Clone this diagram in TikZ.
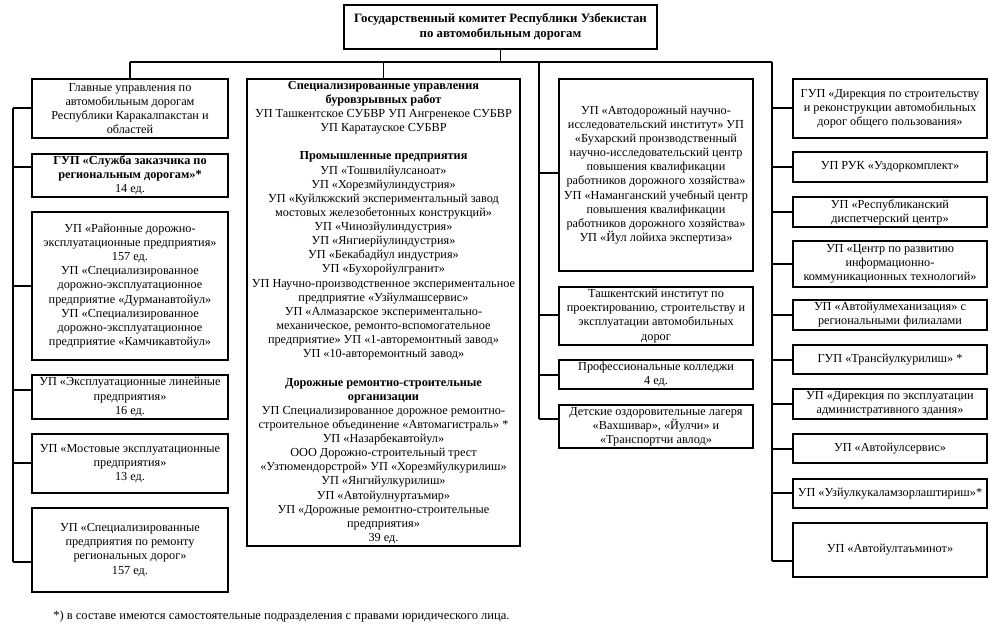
\documentclass[tikz,border=0pt]{standalone}
\usepackage{fontspec}
\setmainfont{Liberation Serif}
\newcommand\mkbox[6]{\node[bx, minimum width={(#4-#2)*0.75pt}, minimum height={(#5-#3)*0.75pt}] (#1) at ({(#2+#4)/2},{(#3+#5)/2}) {#6};}
\begin{document}
\begin{tikzpicture}[x=0.75pt,y=-0.75pt,
  bx/.style={draw, line width=0.9pt, inner sep=0pt, align=center, font=\fontsize{9.2}{10.6}\selectfont},
  ln/.style={line width=0.8pt}]
\useasboundingbox (0,0) rectangle (995,641);

% top
\node[bx, minimum width={313*0.75pt}, minimum height={44*0.75pt}, font=\bfseries\fontsize{9.6}{11.3}\selectfont] (top) at (500.5,27)
  {Государственный комитет Республики Узбекистан\\по автомобильным дорогам};

% left column
\mkbox{lb1}{32}{79}{228}{138}{Главные управления по\\автомобильным дорогам\\Республики Каракалпакстан и\\областей}
\mkbox{lb2}{32}{154}{228}{197}{\textbf{ГУП «Служба заказчика по}\\\textbf{региональным дорогам»*}\\14 ед.}
\mkbox{lb3}{32}{212}{228}{360}{УП «Районные дорожно-\\эксплуатационные предприятия»\\157 ед.\\УП «Специализированное\\дорожно-эксплуатационное\\предприятие «Дурманавтойул»\\УП «Специализированное\\дорожно-эксплуатационное\\предприятие «Камчикавтойул»}
\mkbox{lb4}{32}{375}{228}{419}{УП «Эксплуатационные линейные\\предприятия»\\16 ед.}
\mkbox{lb5}{32}{434}{228}{493}{УП «Мостовые эксплуатационные\\предприятия»\\13 ед.}
\mkbox{lb6}{32}{508}{228}{592}{УП «Специализированные\\предприятия по ремонту\\региональных дорог»\\157 ед.}

% middle column
\mkbox{mid}{247}{79}{520}{546}{\textbf{Специализированные управления}\\\textbf{буровзрывных работ}\\УП Ташкентское СУБВР УП Ангренекое СУБВР\\УП Каратауское СУБВР\\[10.6pt]\textbf{Промышленные предприятия}\\УП «Тошвилйулсаноат»\\УП «Хорезмйулиндустрия»\\УП «Куйлкжский экспериментальный завод\\мостовых железобетонных конструкций»\\УП «Чинозйулиндустрия»\\УП «Янгиерйулиндустрия»\\УП «Бекабадйул индустрия»\\УП «Бухоройулгранит»\\УП Научно-производственное экспериментальное\\предприятие «Узйулмашсервис»\\УП «Алмазарское экспериментально-\\механическое, ремонто-вспомогательное\\предприятие» УП «1-авторемонтный завод»\\УП «10-авторемонтный завод»\\[10.6pt]\textbf{Дорожные ремонтно-строительные}\\\textbf{организации}\\УП Специализированное дорожное ремонтно-\\строительное объединение «Автомагистраль» *\\УП «Назарбекавтойул»\\ООО Дорожно-строительный трест\\«Узтюмендорстрой» УП «Хорезмйулкурилиш»\\УП «Янгийулкурилиш»\\УП «Автойулнуртаъмир»\\УП «Дорожные ремонтно-строительные\\предприятия»\\39 ед.}

% third column
\mkbox{ta}{559}{79}{753}{271}{УП «Автодорожный научно-\\исследовательский институт» УП\\«Бухарский производственный\\научно-исследовательский центр\\повышения квалификации\\работников дорожного хозяйства»\\УП «Наманганский учебный центр\\повышения квалификации\\работников дорожного хозяйства»\\УП «Йул лойиха экспертиза»}
\mkbox{tb}{559}{287}{753}{345}{Ташкентский институт по\\проектированию, строительству и\\эксплуатации автомобильных\\дорог}
\mkbox{tc}{559}{360}{753}{389}{Профессиональные колледжи\\4 ед.}
\mkbox{td}{559}{405}{753}{448}{Детские оздоровительные лагеря\\«Вахшивар», «Йулчи» и\\«Транспортчи авлод»}

% right column
\mkbox{r1}{793}{79}{987}{138}{ГУП «Дирекция по строительству\\и реконструкции автомобильных\\дорог общего пользования»}
\mkbox{r2}{793}{152}{987}{182}{УП РУК «Уздоркомплект»}
\mkbox{r3}{793}{197}{987}{227}{УП «Республиканский\\диспетчерский центр»}
\mkbox{r4}{793}{241}{987}{287}{УП «Центр по развитию\\информационно-\\коммуникационных технологий»}
\mkbox{r5}{793}{300}{987}{330}{УП «Автойулмеханизация» с\\региональными филиалами}
\mkbox{r6}{793}{345}{987}{374}{ГУП «Трансйулкурилиш» *}
\mkbox{r7}{793}{389}{987}{419}{УП «Дирекция по эксплуатации\\административного здания»}
\mkbox{r8}{793}{434}{987}{463}{УП «Автойулсервис»}
\mkbox{r9}{793}{479}{987}{508}{УП «Узйулкукаламзорлаштириш»*}
\mkbox{r10}{793}{523}{987}{577}{УП «Автойултаъминот»}

% footnote
\node[anchor=west, inner sep=0pt, font=\fontsize{9.4}{10.8}\selectfont] (fn) at (53,616)
  {*) в составе имеются самостоятельные подразделения с правами юридического лица.};

% bus coordinates
\coordinate (busC) at (500.5,62);
\coordinate (busL) at (130,62);
\coordinate (busM) at (383.5,62);
\coordinate (busT) at (539,62);
\coordinate (busR) at (772,62);

\draw[ln] (busC |- top.south) -- (busC);
\draw[ln] (busL) -- (busR);
\draw[ln] (busL) -- (lb1.north);
\draw[ln] (busM) -- (mid.north);

% left spine
\coordinate (ls1) at (13,108);
\coordinate (ls2) at (13,167);
\coordinate (ls3) at (13,286);
\coordinate (ls4) at (13,390);
\coordinate (ls5) at (13,463);
\coordinate (ls6) at (13,562);
\draw[ln] (ls1) -- (ls6);
\draw[ln] (ls1) -- (ls1 -| lb1.west);
\draw[ln] (ls2) -- (ls2 -| lb2.west);
\draw[ln] (ls3) -- (ls3 -| lb3.west);
\draw[ln] (ls4) -- (ls4 -| lb4.west);
\draw[ln] (ls5) -- (ls5 -| lb5.west);
\draw[ln] (ls6) -- (ls6 -| lb6.west);

% third spine
\coordinate (ts1) at (539,173);
\coordinate (ts2) at (539,315);
\coordinate (ts3) at (539,375);
\coordinate (ts4) at (539,419);
\draw[ln] (busT) -- (ts4);
\draw[ln] (ts1) -- (ts1 -| ta.west);
\draw[ln] (ts2) -- (ts2 -| tb.west);
\draw[ln] (ts3) -- (ts3 -| tc.west);
\draw[ln] (ts4) -- (ts4 -| td.west);

% right spine
\coordinate (rs1) at (772,108);
\coordinate (rs2) at (772,167);
\coordinate (rs3) at (772,212);
\coordinate (rs4) at (772,264);
\coordinate (rs5) at (772,315);
\coordinate (rs6) at (772,360);
\coordinate (rs7) at (772,404);
\coordinate (rs8) at (772,449);
\coordinate (rs9) at (772,493);
\coordinate (rs10) at (772,561);
\draw[ln] (busR) -- (rs10);
\foreach \i in {1,...,10} {\draw[ln] (rs\i) -- (rs\i -| r\i.west);}
\end{tikzpicture}
\end{document}
